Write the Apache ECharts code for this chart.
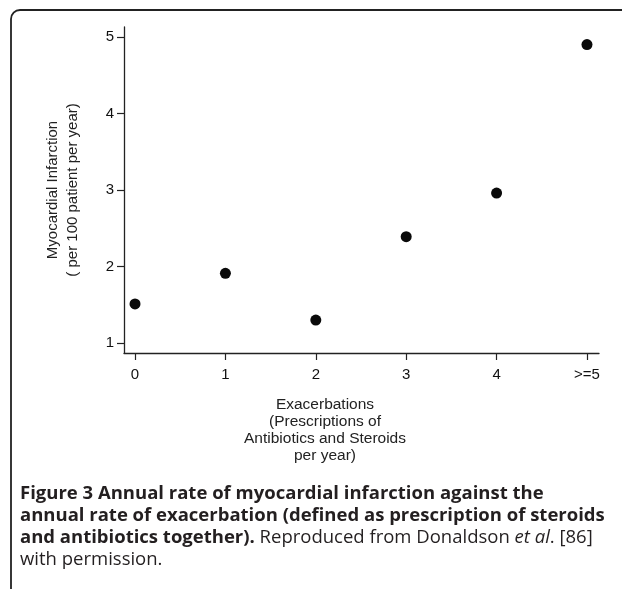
<!DOCTYPE html>
<html><head><meta charset="utf-8">
<script src="https://cdn.jsdelivr.net/npm/echarts@6/dist/echarts.min.js"></script>
<style>html,body{margin:0;padding:0;background:#fff}#c{width:622px;height:589px}</style>
</head><body><div id="c"></div>
<script>
var categories = ['0', '1', '2', '3', '4', '>=5'];
var xValues = [0, 1, 2, 3, 4, 5];
var miRate = [1.51, 1.91, 1.30, 2.39, 2.96, 4.90];
var yTicks = [1, 2, 3, 4, 5];

var chart = echarts.init(document.getElementById('c'));
var data = xValues.map(function (x, i) { return [x, miRate[i]]; });
var axisColor = '#222';
var font = 'Liberation Sans, Arial, sans-serif';

chart.setOption({
  animation: false,
  grid: { left: 124, right: 23, top: 27, bottom: 236, containLabel: false },
  xAxis: {
    type: 'value', min: -0.122, max: 5.133,
    splitLine: { show: false },
    axisLine: { onZero: false, lineStyle: { color: axisColor, width: 1.3 } },
    axisTick: { show: true, length: 7, customValues: xValues, lineStyle: { color: axisColor, width: 1.2 } },
    axisLabel: { customValues: xValues, margin: 14, fontSize: 15, fontFamily: font, color: '#111',
      formatter: function (v) { return categories[Math.round(v)]; } }
  },
  yAxis: {
    type: 'value', min: 0.869, max: 5.13,
    splitLine: { show: false },
    axisLine: { show: true, onZero: false, lineStyle: { color: axisColor, width: 1.3 } },
    axisTick: { show: true, length: 7, customValues: yTicks, lineStyle: { color: axisColor, width: 1.2 } },
    axisLabel: { customValues: yTicks, margin: 10, fontSize: 15, fontFamily: font, color: '#111' },
    name: 'Myocardial Infarction\n( per 100 patient per year)',
    nameLocation: 'middle', nameGap: 41, nameRotate: 90,
    nameTextStyle: { fontSize: 15, fontFamily: font, color: '#222', lineHeight: 20, align: 'center' }
  },
  series: [{
    type: 'scatter', data: data, symbol: 'circle', symbolSize: 11,
    itemStyle: { color: '#0a0a0a', opacity: 1 }
  }],
  graphic: [
    { type: 'rect', shape: { x: 11, y: 10, width: 700, height: 700, r: 9 },
      style: { fill: 'none', stroke: '#222', lineWidth: 1.8 }, silent: true },
    { type: 'text', x: 325, y: 396,
      style: { text: 'Exacerbations\n(Prescriptions of\nAntibiotics and Steroids\nper year)',
        align: 'center', verticalAlign: 'top', font: '15.5px ' + font, lineHeight: 17, fill: '#222' } },
    { type: 'text', x: 20, y: 483,
      style: {
        text: '{b|Figure 3 Annual rate of myocardial infarction against the}\n' +
              '{b|annual rate of exacerbation (defined as prescription of steroids}\n' +
              '{b|and antibiotics together).}{n| Reproduced from Donaldson }{i|et al}{n|. [86]}\n' +
              '{n|with permission.}',
        verticalAlign: 'top', lineHeight: 22,
        rich: {
          b: { fontFamily: 'Open Sans', fontWeight: 'bold', fontSize: 18.5, fill: '#231f20', lineHeight: 22 },
          n: { fontFamily: 'Open Sans', fontSize: 18.5, fill: '#231f20', lineHeight: 22 },
          i: { fontFamily: 'Open Sans', fontStyle: 'italic', fontSize: 18.5, fill: '#231f20', lineHeight: 22 }
        }
      } }
  ]
});
</script></body></html>
